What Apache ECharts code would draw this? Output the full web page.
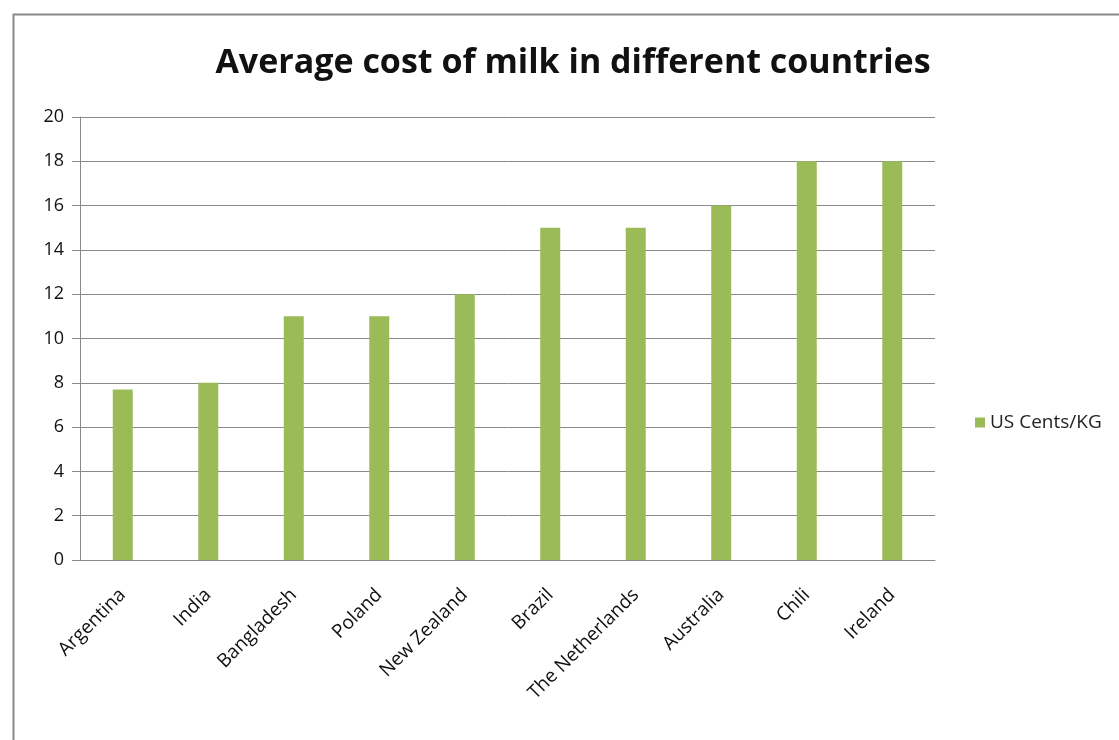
<!DOCTYPE html>
<html><head><meta charset="utf-8">
<script src="https://cdn.jsdelivr.net/npm/echarts@6/dist/echarts.min.js"></script>
<style>html,body{margin:0;padding:0;background:#fff}#c{width:1119px;height:740px}</style>
</head><body><div id="c"></div>
<script>
const categories = ['Argentina','India','Bangladesh','Poland','New Zealand','Brazil','The Netherlands','Australia','Chili','Ireland'];
const values = [7.7, 8, 11, 11, 12, 15, 15, 16, 18, 18];
const seriesName = 'US Cents/KG';
const titleText = 'Average cost of milk in different countries';

const chart = echarts.init(document.getElementById('c'));
const font = '"Open Sans", "Liberation Sans", sans-serif';
chart.setOption({
  animation: false,
  textStyle: {fontFamily: font},
  title: {
    text: titleText, left: 568, top: 41, textAlign: 'center',
    textStyle: {fontFamily: font, fontSize: 34, fontWeight: 'bold', color: '#111'}
  },
  graphic: [{
    type: 'rect', left: 11, top: 12,
    shape: {x: 0, y: 0, width: 1200, height: 800},
    style: {fill: 'none', stroke: '#8a8a8a', lineWidth: 2}, silent: true
  }],
  legend: {
    left: 970, top: 408, orient: 'vertical',
    itemWidth: 10, itemHeight: 10, icon: 'rect', itemGap: 6,
    textStyle: {fontFamily: font, fontSize: 19, color: '#222'},
    data: [seriesName]
  },
  grid: {left: 80, right: 184, top: 117, bottom: 180, containLabel: false},
  xAxis: {
    type: 'category', data: categories,
    axisLine: {lineStyle: {color: '#8a8a8a', width: 1}},
    axisTick: {show: false},
    axisLabel: {rotate: 45, fontSize: 19, color: '#111', margin: 32, interval: 0, fontFamily: font}
  },
  yAxis: {
    type: 'value', min: 0, max: 20, interval: 2,
    axisLine: {show: true, lineStyle: {color: '#8a8a8a'}},
    axisTick: {show: true, length: 8, lineStyle: {color: '#8a8a8a'}},
    splitLine: {lineStyle: {color: '#8a8a8a', width: 1}},
    axisLabel: {fontSize: 18, color: '#111', margin: 16, fontFamily: font}
  },
  series: [{
    name: seriesName, type: 'bar', data: values, barWidth: 20,
    itemStyle: {color: '#9bbb59'}
  }]
});
</script></body></html>
